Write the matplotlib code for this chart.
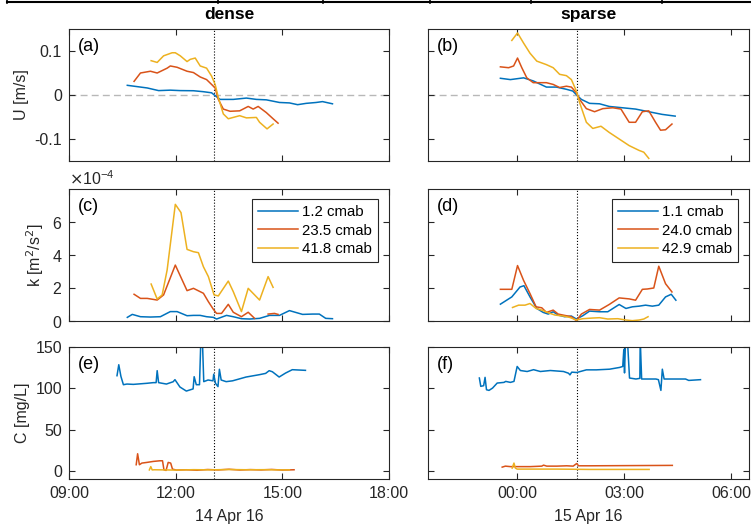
import numpy as np
import pandas as pd
import matplotlib
matplotlib.use("Agg")
import matplotlib.pyplot as plt
import matplotlib.dates as mdates
from matplotlib.lines import Line2D
from matplotlib.ticker import ScalarFormatter

plt.rcParams["font.family"] = ["Liberation Sans", "DejaVu Sans"]
plt.rcParams["axes.unicode_minus"] = False

nan = np.nan
DAY_DENSE = pd.Timestamp("2016-04-14")
DAY_SPARSE = pd.Timestamp("2016-04-15")
SLACK_DENSE = 13.08   # hours after midnight, 14 Apr
SLACK_SPARSE = 1.68   # hours after midnight, 15 Apr

COLORS = ["#0072BD", "#D95319", "#EDB120"]
labels_dense = ["1.2 cmab", "23.5 cmab", "41.8 cmab"]
labels_sparse = ["1.1 cmab", "24.0 cmab", "42.9 cmab"]

# ---- U [m/s], dense ----
tu_d1 = [10.64, 10.92, 11.20, 11.52, 11.85, 12.13, 12.50, 12.78, 13.01, 13.15, 13.25,
         13.62, 13.99, 14.27, 14.55, 14.92, 15.20, 15.43, 15.67, 15.95, 16.13, 16.41]
u_d1 = [0.022, 0.019, 0.016, 0.010, 0.011, 0.010, 0.0097, 0.0075, 0.005, -0.004, -0.010,
        -0.010, -0.007, -0.010, -0.011, -0.017, -0.018, -0.022, -0.019, -0.017, -0.015, -0.020]
tu_d2 = [10.83, 11.01, 11.29, 11.48, 11.76, 11.85, 12.04, 12.32, 12.50, 12.69, 12.87, 13.01,
         13.11, 13.20, 13.34, 13.53, 13.80, 14.04, 14.18, 14.32, 14.55, 14.74, 14.88]
u_d2 = [0.031, 0.050, 0.054, 0.050, 0.061, 0.066, 0.063, 0.054, 0.051, 0.041, 0.035, 0.024,
        0.016, -0.010, -0.032, -0.037, -0.036, -0.026, -0.032, -0.026, -0.040, -0.054, -0.064]
tu_d3 = [11.31, 11.48, 11.66, 11.90, 11.99, 12.13, 12.32, 12.41, 12.55, 12.69, 12.87,
         13.01, 13.11, 13.20, 13.34, 13.48, 13.80, 13.99, 14.27, 14.36, 14.57, 14.74]
u_d3 = [0.078, 0.074, 0.089, 0.096, 0.096, 0.089, 0.076, 0.081, 0.084, 0.066, 0.061,
        0.043, 0.024, -0.006, -0.043, -0.054, -0.047, -0.052, -0.051, -0.062, -0.077, -0.066]

# ---- U [m/s], sparse (hours relative to 00:00 15 Apr) ----
tu_s1 = [-0.47, -0.19, 0.18, 0.45, 0.82, 1.10, 1.38, 1.56, 1.68, 1.80, 2.03, 2.31,
         2.58, 2.95, 3.32, 3.69, 4.06, 4.43]
u_s1 = [0.038, 0.035, 0.039, 0.032, 0.018, 0.018, 0.013, 0.009, -0.001, -0.010, -0.019, -0.020,
        -0.026, -0.029, -0.032, -0.038, -0.044, -0.048]
tu_s2 = [-0.47, -0.24, -0.10, 0.01, 0.13, 0.27, 0.45, 0.64, 0.82, 1.01, 1.19, 1.38, 1.52, 1.66,
         1.75, 1.94, 2.17, 2.40, 2.68, 2.91, 3.14, 3.32, 3.51, 3.69, 3.88, 4.02, 4.16, 4.34]
u_s2 = [0.064, 0.062, 0.066, 0.084, 0.062, 0.039, 0.028, 0.028, 0.028, 0.024, 0.017, 0.020, 0.018, 0.005,
        -0.010, -0.031, -0.038, -0.031, -0.029, -0.032, -0.062, -0.062, -0.038, -0.036, -0.062, -0.080, -0.079, -0.066]
tu_s3 = [-0.15, 0.01, 0.18, 0.36, 0.55, 0.82, 1.01, 1.19, 1.38, 1.52, 1.66,
         1.75, 1.94, 2.12, 2.35, 2.58, 2.86, 3.14, 3.42, 3.55, 3.69]
u_s3 = [0.124, 0.141, 0.118, 0.095, 0.077, 0.069, 0.062, 0.047, 0.044, 0.035, 0.009,
        -0.017, -0.062, -0.076, -0.071, -0.085, -0.100, -0.115, -0.126, -0.130, -0.144]

# ---- k [1e-4 m2/s2], dense ----
tk_d1 = [10.64, 10.78, 11.01, 11.29, 11.57, 11.85, 12.04, 12.32, 12.50, 12.69, 12.87, 13.06, 13.15,
         13.43, 13.62, 13.85, 14.08, 14.36, 14.64, 14.92, 15.20, 15.57, 15.85, 16.04, 16.22, 16.41]
k_d1 = [0.22, 0.40, 0.26, 0.24, 0.26, 0.57, 0.57, 0.32, 0.34, 0.34, 0.26, 0.22, 0.12,
        0.34, 0.26, 0.14, 0.12, 0.16, 0.34, 0.34, 0.63, 0.40, 0.42, 0.42, 0.16, 0.14]
tk_d2 = [10.83, 11.01, 11.20, 11.48, 11.66, 11.99, 12.32, 12.50, 12.78, 12.92, 13.06,
         13.15, 13.29, 13.48, 13.62, 13.85, 14.04, 14.22, 14.40, 14.60, 14.78, 14.88]
k_d2 = [1.62, 1.37, 1.37, 1.27, 1.58, 3.39, 1.84, 1.98, 1.68, 1.17, 0.71,
        0.46, 0.46, 1.01, 0.53, 0.26, 0.53, 0.16, nan, 0.42, 0.46, 0.40]
tk_d3 = [11.31, 11.48, 11.62, 11.76, 11.99, 12.15, 12.32, 12.50, 12.64, 12.78,
         12.92, 13.08, 13.20, 13.48, 13.62, 13.85, 14.04, 14.36, 14.60, 14.74]
k_d3 = [2.24, 1.33, 1.58, 3.09, 7.07, 6.57, 4.34, 4.20, 4.14, 3.29,
        2.69, 1.58, 1.52, 2.42, 1.78, 0.57, 1.98, 1.27, 2.69, 2.04]

# ---- k [1e-4 m2/s2], sparse ----
tk_s1 = [-0.47, -0.15, 0.08, 0.19, 0.36, 0.55, 0.73, 0.87, 1.01, 1.15, 1.33, 1.52, 1.66, 1.84,
         2.03, 2.31, 2.54, 2.86, 3.05, 3.23, 3.42, 3.60, 3.79, 3.97, 4.16, 4.32, 4.45]
k_s1 = [1.02, 1.46, 2.06, 2.14, 1.46, 0.76, 0.52, 0.42, 0.56, 0.36, 0.26, 0.30, 0.12, 0.32,
        0.60, 0.56, 0.56, 1.00, 0.76, 0.86, 0.90, 0.96, 0.90, 0.96, 1.46, 1.62, 1.26]
tk_s2 = [-0.47, -0.15, 0.01, 0.18, 0.36, 0.53, 0.69, 0.82, 1.01, 1.15, 1.33, 1.52, 1.66,
         1.80, 2.03, 2.31, 2.58, 2.86, 3.14, 3.32, 3.51, 3.65, 3.83, 3.97, 4.16, 4.34]
k_s2 = [1.92, 1.92, 3.36, 2.46, 1.66, 0.86, 0.80, 0.52, 0.66, 0.42, 0.34, 0.26, 0.02,
        0.42, 0.70, 0.66, 1.00, 1.40, 1.34, 1.26, 1.92, 1.94, 2.00, 3.32, 2.26, 1.76]
tk_s3 = [-0.13, 0.04, 0.22, 0.36, 0.53, 0.69, 0.87, 1.06, 1.29, 1.47, 1.66,
         1.84, 2.12, 2.31, 2.54, 2.82, 3.05, 3.23, 3.42, 3.55, 3.67]
k_s3 = [0.82, 0.96, 0.96, 1.06, 0.76, 0.66, 0.50, 0.36, 0.30, 0.22, 0.06,
        0.14, 0.18, 0.20, 0.12, 0.14, 0.06, 0.02, 0.06, 0.12, 0.26]

# ---- C [mg/L], dense ----
tc_d1 = [10.35, 10.40, 10.46, 10.53, 10.63, 10.81, 11.19, 11.37, 11.45, 11.48, 11.52,
         11.74, 11.93, 11.98, 12.12, 12.30, 12.49, 12.52, 12.58, 12.67, 12.71,
         12.75, 12.79, 12.91, 13.05, 13.07, 13.12, 13.19, 13.23, 13.28, 13.42,
         13.60, 13.98, 14.35, 14.53, 14.63, 14.72, 14.91, 15.09, 15.28, 15.65]
c_d1 = [115.2, 128.5, 114.4, 104.3, 105.1, 104.7, 106.0, 106.8, 106.8, 121.3, 106.8,
        105.1, 107.9, 110.4, 101.5, 96.6, 99.2, 114.0, 104.3, 104.3, 161,
        161, 108, 110, 109, 117, 106, 102, 123, 110, 108,
        109, 113.6, 116.4, 118, 121.3, 120, 113.6, 118.4, 122.5, 121.7]
tc_d2 = [10.89, 10.93, 10.98, 11.05, 11.19, 11.37, 11.56, 11.63, 11.67, 11.73, 11.79, 11.86, 11.91,
         12.02, 12.3, 12.6, 12.9, 13.2, 13.5, 13.8, 14.1, 14.4, 14.7, 15.0, 15.33]
c_d2 = [7.3, 20.6, 7.3, 9.3, 10.1, 11.3, 12.1, 12.1, 1.2, 0.4, 10.1, 9.3, 2.0,
        0.8, 1.2, 0.6, 1.5, 1.0, 1.8, 0.9, 1.4, 1.0, 1.6, 0.8, 1.2]
tc_d3 = [11.26, 11.30, 11.34, 11.40, 11.7, 12.0, 12.5, 13.0, 13.5, 14.0, 14.5, 15.0, 15.2]
c_d3 = [1.0, 5.0, 1.0, 1.2, 1.0, 0.8, 1.3, 1.1, 1.5, 1.2, 1.3, 1.0, 1.1]

# ---- C [mg/L], sparse ----
tc_s1 = [-1.06, -1.02, -0.94, -0.90, -0.86, -0.79, -0.69, -0.56, -0.37, -0.32,
         -0.19, -0.09, 0.00, 0.09, 0.28, 0.46, 0.65, 0.93, 1.30, 1.44,
         1.48, 1.53, 1.67, 1.94, 2.22, 2.59, 2.87, 2.96, 2.99, 3.01,
         3.04, 3.09, 3.15, 3.33, 3.44, 3.45, 3.49, 3.70, 3.89, 3.96,
         4.03, 4.07, 4.12, 4.35, 4.72, 4.81, 5.14]
c_s1 = [112.4, 102.3, 103.1, 113.2, 98.2, 97.4, 100.2, 106.3, 107.1, 108.3,
        107.1, 108.3, 126.4, 121.5, 120.3, 122.5, 120.3, 121.5, 120.3, 118.2,
        116.2, 119.5, 119.1, 122.3, 122.3, 123.1, 125.2, 126.4, 147, 118.6,
        160, 160, 112.4, 111.2, 112, 160, 111.2, 111.2, 111.2, 110.4,
        97.4, 123.1, 111.2, 111.2, 111.2, 109.5, 110.4]
tc_s2 = [-0.42, -0.33, -0.19, -0.07, 0.09, 0.37, 0.69, 0.74, 0.83, 1.11, 1.39, 1.57,
         1.67, 1.72, 2.04, 2.96, 4.35]
c_s2 = [4.4, 5.6, 5.0, 5.0, 5.0, 5.0, 5.6, 6.8, 5.6, 5.6, 6.0, 5.6, 8.8, 6.0, 6.0, 6.2, 6.5]
tc_s3 = [-0.14, -0.09, -0.05, 0.0, 1.11, 2.04, 2.96, 3.70]
c_s3 = [3.2, 9.3, 3.2, 2.0, 2.0, 1.6, 1.6, 1.6]


def to_time(day, hours):
    return (day + pd.to_timedelta(np.asarray(hours, dtype=float), unit="h")).to_numpy()


W, H = 751, 529


def px_box(l, t, r, b):
    return [l / W, 1 - b / H, (r - l) / W, (b - t) / H]


fig = plt.figure(figsize=(W / 100, H / 100), dpi=100)

cols = [(69, 389), (428, 749)]
rows = [(29, 161), (189, 321), (347, 479)]
axes = [[fig.add_axes(px_box(c[0], r[0], c[1], r[1])) for c in cols] for r in rows]

days = [DAY_DENSE, DAY_SPARSE]
slack = [SLACK_DENSE, SLACK_SPARSE]
xlims = [(9.0, 18.0), (-2.5, 6.5)]
xticks = [[9, 12, 15, 18], [0, 3, 6]]

u_series = [[(tu_d1, u_d1), (tu_d2, u_d2), (tu_d3, u_d3)],
            [(tu_s1, u_s1), (tu_s2, u_s2), (tu_s3, u_s3)]]
k_series = [[(tk_d1, k_d1), (tk_d2, k_d2), (tk_d3, k_d3)],
            [(tk_s1, k_s1), (tk_s2, k_s2), (tk_s3, k_s3)]]
c_series = [[(tc_d1, c_d1), (tc_d2, c_d2), (tc_d3, c_d3)],
            [(tc_s1, c_s1), (tc_s2, c_s2), (tc_s3, c_s3)]]
panel_tags = [["(a)", "(b)"], ["(c)", "(d)"], ["(e)", "(f)"]]
edge = "0.15"
FS = 11.5

for j in range(2):
    day = days[j]
    for i in range(3):
        ax = axes[i][j]
        if i == 0:
            ax.axhline(0, color="0.72", ls="--", lw=1.0, dashes=(5, 3), zorder=1)
            for n, (t, v) in enumerate(u_series[j]):
                ax.plot(to_time(day, t), v, color=COLORS[n], lw=1.1)
            ax.set_ylim(-0.15, 0.15)
            ax.set_yticks([-0.1, 0, 0.1])
            ax.set_yticklabels(["-0.1", "0", "0.1"])
        elif i == 1:
            names = labels_dense if j == 0 else labels_sparse
            for n, (t, v) in enumerate(k_series[j]):
                ax.plot(to_time(day, t), np.asarray(v) * 1e-4, color=COLORS[n], lw=1.1,
                        label=names[n])
            ax.set_ylim(0, 8e-4)
            ax.set_yticks([0, 2e-4, 4e-4, 6e-4])
            fmt = ScalarFormatter(useMathText=True)
            fmt.set_powerlimits((0, 0))
            ax.yaxis.set_major_formatter(fmt)
            leg = ax.legend(loc="upper right", bbox_to_anchor=(0.966, 0.924),
                            borderaxespad=0, fancybox=False, framealpha=1,
                            edgecolor=edge, fontsize=10.8, handlelength=2.7,
                            handletextpad=0.25, labelspacing=0.3, borderpad=0.4)
            leg.get_frame().set_linewidth(0.8)
        else:
            for n, (t, v) in enumerate(c_series[j]):
                ax.plot(to_time(day, t), v, color=COLORS[n], lw=1.1)
            ax.set_ylim(-10, 150)
            ax.set_yticks([0, 50, 100, 150])

        ax.axvline(to_time(day, [slack[j]])[0], color="k", ls=":", lw=0.8, zorder=0.5)
        ax.set_xlim(to_time(day, xlims[j][0]), to_time(day, xlims[j][1]))
        ax.set_xticks(to_time(day, xticks[j]))
        ax.xaxis.set_major_formatter(mdates.DateFormatter("%H:%M"))
        ax.tick_params(direction="in", length=4, width=0.8, top=True, right=True,
                       colors=edge, labelcolor="0.15", labelsize=FS, pad=5)
        for s in ax.spines.values():
            s.set_color(edge)
            s.set_linewidth(0.8)
        if i < 2:
            ax.tick_params(labelbottom=False)
        if j == 1:
            ax.tick_params(labelleft=False)
            ax.yaxis.get_offset_text().set_visible(False)
        ax.text(0.028, 0.935, panel_tags[i][j], transform=ax.transAxes,
                ha="left", va="top", fontsize=13, color="k")

axes[1][0].yaxis.get_offset_text().set_fontsize(FS)
axes[1][0].yaxis.get_offset_text().set_color("0.15")

axes[0][0].set_title("dense", fontsize=12.5, fontweight="bold", pad=7)
axes[0][1].set_title("sparse", fontsize=12.5, fontweight="bold", pad=7)

axes[0][0].set_ylabel("U [m/s]", fontsize=FS, color="0.15")
axes[1][0].set_ylabel("k [m$^2$/s$^2$]", fontsize=FS, color="0.15")
axes[2][0].set_ylabel("C [mg/L]", fontsize=FS, color="0.15")
axes[2][0].set_xlabel("14 Apr 16", fontsize=FS, color="0.15", labelpad=6)
axes[2][1].set_xlabel("15 Apr 16", fontsize=FS, color="0.15", labelpad=6)

# border strip along the top edge
fig.add_artist(Line2D([7 / W, 1], [1 - 2 / H, 1 - 2 / H], color="k", lw=1.5))
for xp in [7, 218, 323, 430, 531, 662]:
    fig.add_artist(Line2D([xp / W, xp / W], [1, 1 - 3 / H], color="k", lw=1.2))

fig.savefig("out.png", dpi=100)
